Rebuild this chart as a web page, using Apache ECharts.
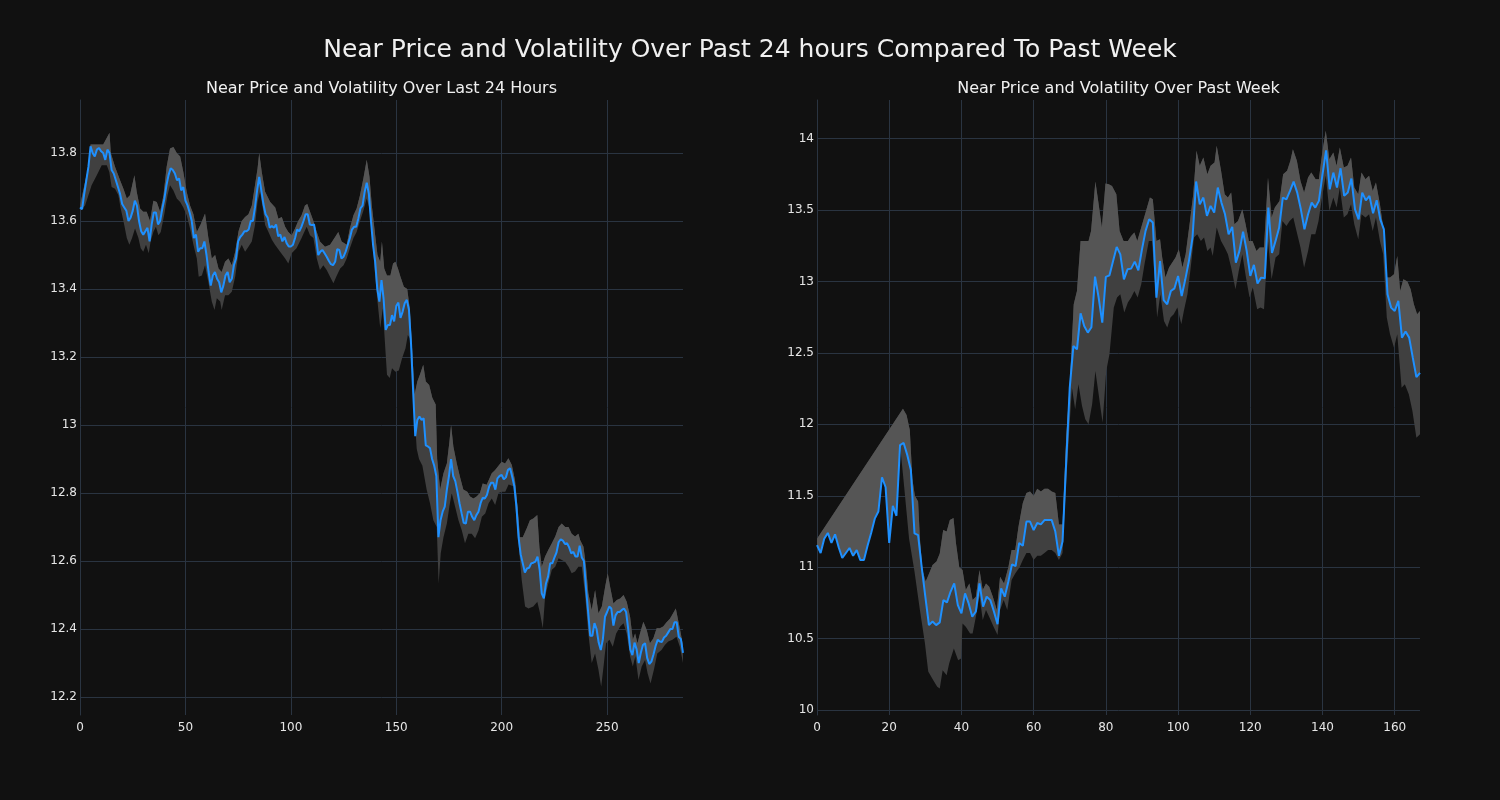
<!DOCTYPE html>
<html>
<head>
<meta charset="utf-8">
<script src="https://cdn.jsdelivr.net/npm/echarts@6/dist/echarts.min.js"></script>
<style>
html,body{margin:0;padding:0;background:#111111;}
#chart{width:1500px;height:800px;}
</style>
</head>
<body>
<div id="chart"></div>
<script>
// ---------- data ----------
const mainTitle = "Near Price and Volatility Over Past 24 hours Compared To Past Week";
const dayTitle = "Near Price and Volatility Over Last 24 Hours";
const weekTitle = "Near Price and Volatility Over Past Week";

const dayXTicks = [0, 50, 100, 150, 200, 250];
const dayYTicks = [12.2, 12.4, 12.6, 12.8, 13, 13.2, 13.4, 13.6, 13.8];
const weekXTicks = [0, 20, 40, 60, 80, 100, 120, 140, 160];
const weekYTicks = [10, 10.5, 11, 11.5, 12, 12.5, 13, 13.5, 14];

// price, last 24 hours (index 0..286)
const dayPrice = [
13.64,13.635,13.68,13.72,13.76,13.82,13.80,13.79,13.81,13.815,
13.805,13.80,13.78,13.81,13.80,13.75,13.74,13.72,13.70,13.68,
13.65,13.64,13.63,13.60,13.61,13.63,13.66,13.645,13.60,13.57,
13.56,13.57,13.58,13.54,13.59,13.625,13.625,13.59,13.60,13.635,
13.665,13.705,13.735,13.755,13.75,13.74,13.72,13.725,13.69,13.70,
13.66,13.646,13.625,13.60,13.55,13.56,13.51,13.52,13.52,13.54,
13.50,13.45,13.41,13.44,13.45,13.43,13.42,13.39,13.41,13.44,
13.45,13.42,13.43,13.47,13.49,13.54,13.553,13.56,13.57,13.57,
13.575,13.60,13.60,13.64,13.69,13.73,13.69,13.65,13.62,13.61,
13.58,13.585,13.58,13.59,13.555,13.56,13.54,13.553,13.535,13.525,
13.525,13.53,13.55,13.575,13.57,13.583,13.60,13.62,13.62,13.59,
13.588,13.59,13.55,13.50,13.51,13.515,13.505,13.495,13.483,13.473,
13.47,13.48,13.517,13.515,13.49,13.495,13.51,13.53,13.55,13.575,
13.583,13.583,13.607,13.637,13.645,13.685,13.713,13.68,13.60,13.53,
13.48,13.40,13.363,13.426,13.37,13.28,13.294,13.294,13.323,13.305,
13.35,13.36,13.315,13.333,13.358,13.368,13.34,13.24,13.10,12.967,
13.015,13.025,13.015,13.02,12.94,12.937,12.932,12.90,12.88,12.85,
12.67,12.72,12.745,12.76,12.81,12.85,12.90,12.85,12.835,12.804,
12.77,12.74,12.712,12.71,12.745,12.745,12.73,12.72,12.735,12.745,
12.77,12.786,12.784,12.794,12.818,12.83,12.83,12.81,12.843,12.85,
12.853,12.84,12.846,12.868,12.873,12.848,12.82,12.76,12.67,12.62,
12.593,12.566,12.578,12.58,12.593,12.595,12.598,12.613,12.575,12.505,
12.49,12.534,12.554,12.593,12.593,12.61,12.625,12.655,12.664,12.66,
12.65,12.652,12.64,12.622,12.627,12.613,12.613,12.645,12.61,12.60,
12.52,12.45,12.38,12.38,12.417,12.40,12.36,12.338,12.37,12.436,
12.45,12.466,12.46,12.41,12.44,12.45,12.45,12.456,12.46,12.45,
12.40,12.34,12.323,12.36,12.34,12.30,12.33,12.353,12.358,12.315,
12.297,12.304,12.325,12.35,12.368,12.363,12.362,12.375,12.38,12.39,
12.40,12.40,12.42,12.42,12.377,12.37,12.33
];

// volatility band edges, last 24 hours: [index, value]
const dayUpper = [
[0,13.646],[2.4,13.715],[4,13.76],[5,13.825],[11,13.825],[14,13.86],[14.6,13.80],[16.6,13.76],[19,13.72],[20.6,13.695],
[22.2,13.666],[23.7,13.676],[25.8,13.735],[26.9,13.686],[28.5,13.637],[30,13.627],[31.6,13.627],[33.2,13.60],[34.8,13.66],[36.4,13.656],
[38,13.627],[39.6,13.676],[41.1,13.76],[42.7,13.813],[44.3,13.818],[45.9,13.80],[47.5,13.79],[49,13.744],[50.6,13.686],[52.2,13.646],
[53.8,13.62],[55.4,13.568],[57.2,13.59],[59.3,13.622],[60.9,13.55],[62.5,13.49],[64.1,13.50],[65.7,13.46],[67.2,13.45],[68.8,13.48],
[70.4,13.49],[72,13.47],[73.6,13.51],[75.2,13.57],[76.7,13.60],[78.3,13.612],[79.9,13.62],[81.5,13.646],[83,13.705],[84.2,13.754],
[85,13.80],[86.2,13.744],[87.8,13.686],[90.2,13.656],[92.6,13.64],[94.1,13.607],[95.7,13.612],[97.3,13.583],[98.8,13.568],[100.4,13.558],
[102,13.578],[103.5,13.60],[105.1,13.617],[106.7,13.646],[107.8,13.65],[109.1,13.627],[110.7,13.60],[112.3,13.568],[113.8,13.54],[116.2,13.524],
[118.6,13.53],[121,13.553],[122.5,13.568],[124.1,13.54],[126.5,13.53],[128,13.578],[129.7,13.617],[131.2,13.637],[132.8,13.676],[134.4,13.725],
[136,13.78],[137.3,13.73],[138.4,13.646],[140,13.558],[141.1,13.50],[142.4,13.48],[143.2,13.54],[144.3,13.46],[145.6,13.44],[147.2,13.44],
[148.5,13.475],[149.6,13.48],[150.8,13.46],[152,13.436],[153.6,13.407],[155.2,13.40],[156.4,13.343],[157.5,13.226],[158.7,13.09],[160,13.128],
[161.2,13.148],[162.8,13.177],[164,13.128],[165.6,13.118],[167.1,13.08],[168.7,13.06],[169.4,12.90],[170.8,12.81],[172.4,12.858],[174,12.887],
[175.2,12.95],[176,13.0],[177.1,12.936],[178.7,12.887],[180.2,12.848],[181.8,12.81],[183.7,12.804],[185,12.79],[186.6,12.784],[188.1,12.79],
[189.7,12.80],[191,12.828],[192.9,12.824],[194.2,12.843],[195.3,12.858],[196.9,12.868],[198.5,12.88],[200,12.892],[201.6,12.887],[203.2,12.902],
[204.8,12.882],[206.3,12.838],[207.5,12.76],[208.7,12.67],[210,12.67],[211.9,12.696],[213.4,12.72],[215,12.725],[216.9,12.735],[217.9,12.64],
[219,12.583],[220.6,12.613],[222.1,12.632],[223.8,12.652],[225.4,12.672],[227,12.70],[228.5,12.71],[230.1,12.70],[231.7,12.70],[233.2,12.68],
[234.8,12.672],[236.4,12.68],[237.2,12.662],[238.8,12.642],[240,12.583],[241.1,12.505],[242.7,12.456],[244.3,12.515],[245.9,12.446],[247.5,12.466],
[249.1,12.525],[250.3,12.564],[251.4,12.525],[253,12.475],[254.6,12.485],[256.2,12.49],[257.8,12.50],[259.3,12.48],[260.9,12.436],[262.2,12.368],
[263.3,12.387],[264.4,12.358],[265.6,12.387],[267.2,12.421],[268.8,12.397],[270.3,12.358],[271.9,12.372],[273.5,12.402],[275,12.402],[276.6,12.407],
[278.2,12.42],[279.8,12.43],[281.3,12.446],[282.6,12.46],[283.7,12.426],[284.8,12.392],[286,12.35]
];
const dayLower = [
[0,13.63],[2.4,13.646],[4,13.676],[5.5,13.705],[7.9,13.734],[10.3,13.764],[12.7,13.764],[13.9,13.744],[15,13.70],[16.6,13.695],
[18.2,13.676],[19.3,13.637],[20.6,13.60],[22.2,13.55],[23.4,13.53],[24.7,13.55],[26.1,13.578],[27.7,13.55],[28.8,13.52],[30,13.51],
[31.3,13.53],[32.6,13.505],[33.5,13.54],[34.8,13.568],[36,13.583],[37.2,13.558],[38.3,13.568],[39.9,13.617],[41.5,13.676],[42.7,13.705],
[44.3,13.69],[45.9,13.666],[47.5,13.656],[49,13.64],[50.6,13.617],[52.2,13.578],[53.8,13.53],[55.4,13.49],[56.3,13.436],[57.8,13.44],
[59.3,13.47],[60.9,13.42],[62.5,13.363],[63.8,13.338],[64.9,13.373],[66.5,13.363],[67.2,13.338],[68.8,13.382],[70.4,13.382],[72,13.392],
[73.6,13.436],[75.2,13.51],[76.7,13.53],[78.3,13.51],[79.9,13.524],[81.5,13.54],[83,13.588],[84.2,13.656],[85.4,13.686],[86.7,13.637],
[87.8,13.588],[89.4,13.568],[91,13.545],[92.5,13.53],[94.9,13.51],[97.3,13.49],[98.8,13.475],[100.4,13.505],[102.7,13.52],[105.1,13.55],
[107.5,13.583],[109.1,13.558],[110.7,13.55],[112.3,13.49],[113.8,13.456],[115.4,13.47],[117,13.456],[118.6,13.436],[120.2,13.417],[121.8,13.44],
[123.4,13.46],[125,13.47],[126.5,13.49],[128,13.52],[129.7,13.55],[131.2,13.568],[132.8,13.60],[134.4,13.63],[136,13.666],[137.3,13.637],
[138.4,13.558],[140,13.44],[141.1,13.363],[142.4,13.285],[143.6,13.343],[144.8,13.226],[145.6,13.148],[146.9,13.138],[148,13.167],[149.6,13.157],
[151.2,13.16],[152.8,13.197],[154.4,13.226],[155.5,13.265],[156.4,13.255],[157.5,13.187],[158.7,13.03],[159.7,12.93],[160.8,12.90],[162.4,12.88],
[164.4,12.81],[166,12.77],[167.6,12.72],[169.2,12.70],[170.1,12.534],[171.1,12.623],[172.4,12.67],[174,12.71],[175.2,12.76],[176.3,12.80],
[177.9,12.76],[179.5,12.72],[181.1,12.69],[182.6,12.652],[184.2,12.68],[185.8,12.68],[187.4,12.667],[189,12.69],[190.6,12.73],[192.2,12.74],
[193.8,12.77],[195.3,12.784],[196.9,12.765],[198.5,12.80],[200.1,12.804],[201.7,12.804],[203.3,12.825],[205.6,12.82],[206.8,12.74],[208.4,12.623],
[209.5,12.544],[211.1,12.466],[212.7,12.46],[215,12.466],[216.9,12.48],[218.2,12.446],[219.5,12.402],[220.6,12.495],[222.1,12.534],[223.8,12.574],
[225.4,12.583],[227,12.608],[228.5,12.603],[230.1,12.598],[231.7,12.583],[233.2,12.564],[234.8,12.569],[236.4,12.583],[238,12.583],[239.5,12.505],
[241.1,12.387],[242.7,12.30],[244.3,12.328],[245.9,12.28],[247.2,12.23],[248.3,12.289],[249.5,12.358],[251.1,12.368],[252.7,12.348],[254.3,12.387],
[256.2,12.407],[257.8,12.417],[259.3,12.387],[260.9,12.32],[262.2,12.29],[263.4,12.32],[264.9,12.25],[266.4,12.29],[268,12.309],[269.2,12.27],
[270.6,12.24],[272.2,12.28],[273.8,12.328],[275.8,12.338],[277.4,12.353],[279,12.363],[281,12.368],[282.9,12.377],[284.5,12.348],[286,12.30]
];

// price, past week (index 0..167)
const weekPrice = [
11.155,11.10,11.20,11.24,11.17,11.23,11.14,11.065,11.10,11.135,
11.08,11.12,11.05,11.05,11.15,11.24,11.34,11.39,11.63,11.56,
11.17,11.43,11.36,11.855,11.87,11.785,11.68,11.237,11.225,11.0,
10.794,10.595,10.62,10.595,10.614,10.77,10.754,10.83,10.887,10.735,
10.677,10.817,10.747,10.654,10.69,10.887,10.724,10.794,10.77,10.69,
10.602,10.852,10.794,10.90,11.02,11.008,11.17,11.15,11.32,11.32,
11.26,11.31,11.30,11.33,11.33,11.33,11.25,11.08,11.18,11.73,
12.257,12.548,12.525,12.777,12.688,12.642,12.68,13.034,12.887,12.712,
13.032,13.043,13.143,13.242,13.19,13.015,13.085,13.09,13.139,13.078,
13.225,13.354,13.435,13.412,12.887,13.143,12.87,12.84,12.933,12.952,
13.038,12.898,13.015,13.143,13.307,13.70,13.54,13.587,13.459,13.529,
13.482,13.657,13.552,13.47,13.33,13.382,13.132,13.214,13.349,13.214,
13.039,13.116,12.986,13.027,13.022,13.517,13.20,13.284,13.377,13.587,
13.575,13.634,13.699,13.622,13.505,13.365,13.47,13.552,13.517,13.564,
13.75,13.918,13.645,13.762,13.657,13.792,13.599,13.622,13.72,13.505,
13.435,13.622,13.568,13.599,13.477,13.568,13.435,13.365,12.911,12.817,
12.794,12.864,12.607,12.65,12.607,12.467,12.331,12.36
];

// volatility band edges, past week: [index, value]
const weekUpper = [
[0,11.2],[23.8,12.11],[24.8,12.065],[25.7,11.96],[26.4,11.62],[27.1,11.5],[28,11.46],[28.5,11.2],[29.2,10.98],[30.1,10.90],
[31.1,10.96],[32,11.015],[33.1,11.04],[34,11.097],[34.95,11.26],[35.9,11.25],[36.8,11.33],[37.8,11.345],[38.5,11.167],[39.4,11.0],
[40.3,10.98],[41.2,10.84],[42.2,10.887],[43.1,10.77],[44,10.794],[45,10.98],[45.9,10.84],[46.8,10.887],[47.7,10.864],[48.7,10.794],
[49.8,10.70],[50.7,10.934],[51.8,10.887],[53,11.0],[53.9,11.12],[54.9,11.12],[55.8,11.284],[57,11.45],[58,11.52],[59,11.53],
[60,11.5],[61,11.55],[62,11.53],[63,11.55],[64,11.55],[65,11.53],[66,11.52],[67,11.30],[68,11.30],[69,11.9],
[70,12.28],[71.1,12.84],[72,12.933],[73,13.284],[74,13.284],[75.2,13.284],[75.9,13.354],[77.1,13.70],[78,13.54],[78.9,13.377],
[79.9,13.685],[80.8,13.68],[81.7,13.669],[82.9,13.61],[83.8,13.354],[84.9,13.284],[86.1,13.284],[87,13.319],[87.9,13.342],[88.7,13.284],
[89.8,13.377],[91,13.482],[92.2,13.587],[93,13.575],[94,13.284],[95,13.295],[95.6,13.167],[96.5,13.027],[97.5,13.097],[98.4,13.132],
[99.3,13.167],[100.2,13.225],[101.2,13.097],[102.1,13.19],[103.3,13.424],[104.2,13.61],[105.1,13.914],[106,13.809],[107,13.867],[108.1,13.75],
[109,13.809],[110.1,13.832],[110.7,13.95],[111.9,13.774],[112.9,13.61],[113.8,13.587],[114.7,13.622],[115.6,13.40],[116.6,13.424],[117.8,13.505],
[118.7,13.40],[119.6,13.284],[120.6,13.284],[121.7,13.214],[122.6,13.237],[123.8,13.237],[124.9,13.727],[125.9,13.447],[126.8,13.517],[128.1,13.564],
[129.1,13.75],[130.2,13.774],[131.1,13.844],[131.8,13.925],[132.9,13.844],[133.9,13.704],[134.9,13.622],[136,13.727],[136.9,13.762],[138.1,13.715],
[139,13.715],[140,13.914],[140.9,14.054],[141.9,13.855],[143,13.902],[143.9,13.809],[144.8,13.937],[145.9,13.797],[146.9,13.809],[147.9,13.867],
[148.8,13.657],[149.9,13.61],[150.8,13.762],[151.9,13.715],[152.9,13.739],[153.9,13.634],[154.8,13.692],[155.9,13.54],[156.8,13.377],[157.8,13.027],
[158.7,13.027],[159.8,13.05],[160.7,13.179],[161.5,12.933],[162.4,13.015],[163.5,13.0],[164.4,12.945],[165.3,12.84],[166.2,12.77],[167,12.793]
];
const weekLower = [
[0,11.155],[1,11.10],[2,11.20],[3,11.24],[4,11.17],[5,11.23],[6,11.14],[7,11.065],[8,11.10],[9,11.135],
[10,11.08],[11,11.12],[12,11.05],[13,11.05],[14,11.15],[15,11.24],[16,11.34],[17,11.39],[18,11.63],[19,11.56],
[20,11.17],[21,11.43],[22,11.36],[23,11.855],[24,11.6],[25.5,11.2],[27,10.97],[28.5,10.70],[29.9,10.467],[30.8,10.27],
[32.2,10.21],[33.3,10.164],[34,10.152],[34.8,10.28],[35.9,10.245],[36.6,10.327],[37.9,10.432],[39.1,10.35],[39.9,10.362],[40.3,10.607],
[41.2,10.584],[42.4,10.537],[43.1,10.537],[44,10.654],[45,10.80],[45.9,10.63],[46.8,10.70],[47.9,10.642],[48.9,10.584],[50,10.525],
[50.7,10.70],[51.7,10.77],[52.7,10.70],[53.9,10.91],[54.9,10.957],[56.1,11.0],[57,11.05],[58,11.1],[59,11.1],[60,11.05],
[61,11.08],[62,11.08],[63,11.1],[64,11.12],[65,11.12],[66,11.1],[67,11.05],[68,11.1],[68.8,11.5],[69.8,11.93],
[70.6,12.257],[71.5,12.105],[72.4,12.28],[73.4,12.128],[74.3,12.035],[75.2,12.0],[76.2,12.14],[77.1,12.373],[78,12.21],[79.1,12.012],
[80.1,12.373],[81,12.49],[82.2,12.817],[83.1,12.887],[84,12.91],[85.1,12.782],[86.1,12.852],[87,12.887],[87.9,12.933],[88.8,12.887],
[89.8,12.98],[90.7,13.12],[91.9,13.284],[92.8,13.284],[93.8,12.91],[94.2,12.747],[95.1,12.91],[96.1,12.723],[97,12.677],[97.9,12.747],
[98.8,12.77],[99.8,12.817],[100.9,12.70],[101.6,12.794],[102.6,12.91],[103.5,13.097],[104.4,13.307],[105.3,13.33],[106.3,13.284],[107.2,13.307],
[108.1,13.214],[109,13.237],[109.6,13.179],[110.7,13.377],[111.9,13.284],[112.9,13.237],[113.8,13.19],[114.7,13.097],[115.9,12.945],[116.8,13.074],
[117.8,13.19],[118.8,13.027],[119.8,12.887],[120.7,12.957],[121.9,12.805],[122.8,12.817],[123.8,12.805],[124.9,13.284],[125.9,13.015],[127,13.167],
[128,13.19],[128.9,13.424],[130,13.389],[130.9,13.424],[131.9,13.447],[132.8,13.354],[133.9,13.237],[134.9,13.097],[136,13.214],[136.9,13.33],
[138,13.33],[138.9,13.424],[140,13.61],[140.9,13.739],[141.9,13.494],[143,13.587],[143.9,13.517],[144.8,13.657],[145.9,13.447],[146.9,13.47],
[147.9,13.54],[148.8,13.40],[149.9,13.295],[150.8,13.47],[151.9,13.447],[152.9,13.47],[153.9,13.354],[154.8,13.447],[155.9,13.284],[156.8,13.19],
[157.8,12.747],[158.7,12.63],[159.8,12.537],[160.7,12.63],[161.9,12.257],[162.8,12.28],[163.9,12.21],[164.9,12.093],[166,11.907],[167,11.93]
];

// ---------- chart ----------
const BG = '#111111';
const GRIDC = '#2a3441';
const TXT = '#e6e6e6';
const LINEC = '#1e90ff';
const BAND_DARK = '#404040';
const BAND_LIGHT = '#555555';
const FONT = '"DejaVu Sans", sans-serif';

function toPairs(arr) { return arr.map((v, i) => [i, v]); }

function polygonSeries(idx, top, bottom, color, z) {
  return {
    type: 'custom', xAxisIndex: idx, yAxisIndex: idx, silent: true, z: z,
    data: [[top[0][0], top[0][1]]],
    renderItem: function (params, api) {
      const pts = top.map(p => api.coord(p)).concat(bottom.slice().reverse().map(p => api.coord(p)));
      return { type: 'polygon', shape: { points: pts }, style: { fill: color } };
    }
  };
}

function xAxisCfg(idx, max, ticks) {
  return {
    type: 'value', gridIndex: idx, min: 0, max: max,
    axisLine: { show: false },
    axisTick: { show: false, customValues: ticks },
    axisLabel: { customValues: ticks, color: TXT, fontSize: 12, fontFamily: FONT, margin: 7 },
    splitLine: { show: true, lineStyle: { color: GRIDC, width: 1 } }
  };
}
function yAxisCfg(idx, min, max, ticks) {
  return {
    type: 'value', gridIndex: idx, min: min, max: max,
    axisLine: { show: true, lineStyle: { color: GRIDC, width: 1 } },
    axisTick: { show: false, customValues: ticks },
    axisLabel: { customValues: ticks, color: TXT, fontSize: 12, fontFamily: FONT, margin: 3 },
    splitLine: { show: true, lineStyle: { color: GRIDC, width: 1 } }
  };
}

const chart = echarts.init(document.getElementById('chart'), null, { renderer: 'canvas' });
const dayLine = toPairs(dayPrice);
const weekLine = toPairs(weekPrice);

chart.setOption({
  backgroundColor: BG,
  animation: false,
  graphic: [
    { type: 'text', x: 750, y: 50, style: { text: mainTitle, fill: '#f0f0f0', font: '25px ' + FONT, textAlign: 'center', textVerticalAlign: 'middle' } },
    { type: 'text', x: 381.5, y: 89, style: { text: dayTitle, fill: '#f0f0f0', font: '16px ' + FONT, textAlign: 'center', textVerticalAlign: 'middle' } },
    { type: 'text', x: 1118.5, y: 89, style: { text: weekTitle, fill: '#f0f0f0', font: '16px ' + FONT, textAlign: 'center', textVerticalAlign: 'middle' } }
  ],
  grid: [
    { left: 80, top: 100, width: 603, height: 615 },
    { left: 817, top: 100, width: 603, height: 615 }
  ],
  xAxis: [xAxisCfg(0, 286, dayXTicks), xAxisCfg(1, 167, weekXTicks)],
  yAxis: [yAxisCfg(0, 12.147, 13.956, dayYTicks), yAxisCfg(1, 9.966, 14.27, weekYTicks)],
  series: [
    polygonSeries(0, dayUpper, dayLower, BAND_DARK, 1),
    polygonSeries(0, dayUpper, dayLine, BAND_LIGHT, 2),
    { type: 'line', xAxisIndex: 0, yAxisIndex: 0, data: dayLine, showSymbol: false, z: 3,
      lineStyle: { color: LINEC, width: 2 }, itemStyle: { color: LINEC } },
    polygonSeries(1, weekUpper, weekLower, BAND_DARK, 1),
    polygonSeries(1, weekUpper, weekLine, BAND_LIGHT, 2),
    { type: 'line', xAxisIndex: 1, yAxisIndex: 1, data: weekLine, showSymbol: false, z: 3,
      lineStyle: { color: LINEC, width: 2 }, itemStyle: { color: LINEC } }
  ]
});
</script>
</body>
</html>
